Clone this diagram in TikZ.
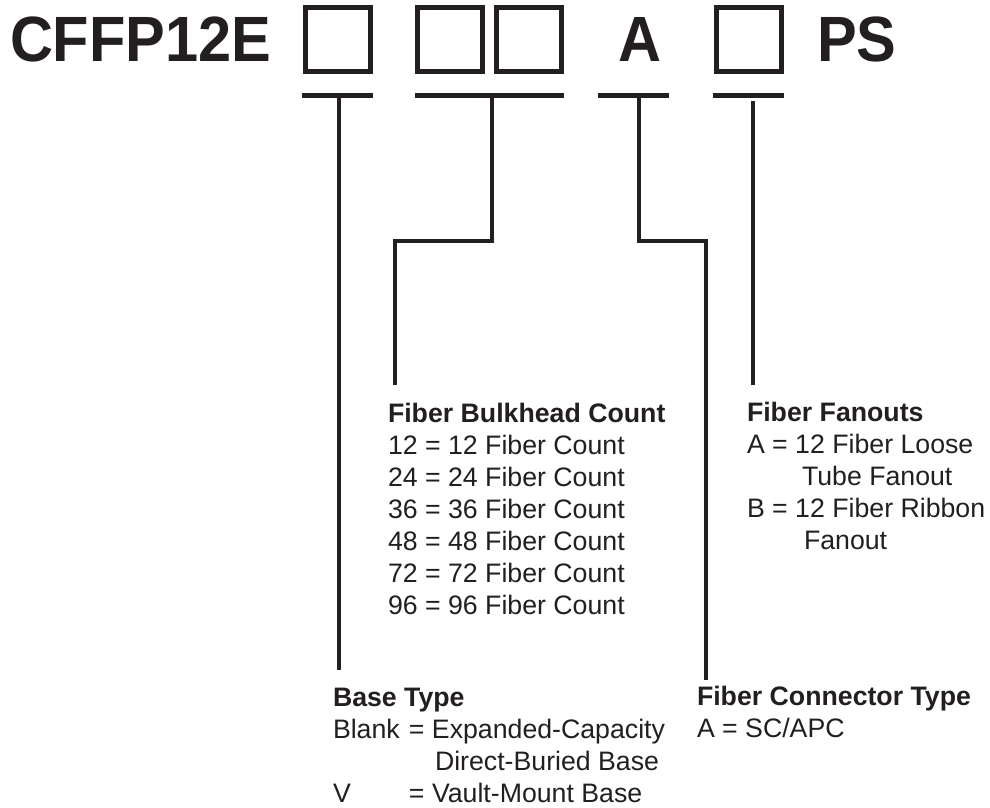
\documentclass[tikz,border=0pt]{standalone}
\usepackage{fontspec}
\usepackage{graphicx}
\setmainfont{Liberation Sans}
\definecolor{ink}{RGB}{35,31,32}
\begin{document}
\begin{tikzpicture}[x=1pt,y=-1pt,
  every node/.style={inner sep=0pt, outer sep=0pt, text=ink},
  slot/.style={draw=ink, line width=5pt, minimum width=65pt, minimum height=64pt},
  bar/.style={draw=ink, line width=5pt},
  lead/.style={draw=ink, line width=4pt, line join=miter},
  codetext/.style={anchor=base west, font=\fontsize{64}{64}\selectfont\bfseries},
  legend/.style={anchor=base west, font=\fontsize{26.7}{32}\selectfont}]
\useasboundingbox[fill=white] (0,0) rectangle (990,808);

% code line
\node[codetext] (code) at (10,62) {\scalebox{0.93}[1]{CFFP12E}};
\node[slot] (s1) at (337.5,39.5) {};
\node[slot] (s2) at (449.5,39.5) {};
\node[slot] (s3) at (529,39.5) {};
\node[codetext] (fixA) at (618,62) {\scalebox{0.93}[1]{A}};
\node[slot] (s4) at (748.5,39.5) {};
\node[codetext] (fixPS) at (817,62) {\scalebox{0.93}[1]{PS}};

% bars
\coordinate (b1l) at (302,95.5); \coordinate (b1r) at (373,95.5);
\coordinate (b2l) at (415,95.5); \coordinate (b2r) at (564,95.5);
\coordinate (b3l) at (598,95.5); \coordinate (b3r) at (669,95.5);
\coordinate (b4l) at (713,95.5); \coordinate (b4r) at (784,95.5);
\draw[bar] (b1l) -- (b1r);
\draw[bar] (b2l) -- (b2r);
\draw[bar] (b3l) -- (b3r);
\draw[bar] (b4l) -- (b4r);

% legends
\node[legend] (bulk) at (388,422) {\begin{tabular}[t]{@{}l@{}}
\bfseries Fiber Bulkhead Count\\
12 = 12 Fiber Count\\
24 = 24 Fiber Count\\
36 = 36 Fiber Count\\
48 = 48 Fiber Count\\
72 = 72 Fiber Count\\
96 = 96 Fiber Count
\end{tabular}};

\node[legend] (fan) at (747,421) {\begin{tabular}[t]{@{}l@{}}
\bfseries Fiber Fanouts\\
A = 12 Fiber Loose\\
\hspace*{55pt}Tube Fanout\\
B = 12 Fiber Ribbon\\
\hspace*{57pt}Fanout
\end{tabular}};

\node[legend] (base) at (333,706) {\begin{tabular}[t]{@{}l@{}}
\bfseries Base Type\\
\makebox[76pt][l]{Blank}= Expanded-Capacity\\
\hspace*{102pt}Direct-Buried Base\\
\makebox[76pt][l]{V}= Vault-Mount Base
\end{tabular}};

\node[legend] (conn) at (697,705) {\begin{tabular}[t]{@{}l@{}}
\bfseries Fiber Connector Type\\
A = SC/APC
\end{tabular}};

% leaders
\coordinate (t1) at (339,95);  \coordinate (e1) at (339,670);
\coordinate (t2) at (492,95);  \coordinate (k2a) at (492,241); \coordinate (k2b) at (395,241); \coordinate (e2) at (395,385);
\coordinate (t3) at (639,95);  \coordinate (k3a) at (639,241); \coordinate (k3b) at (706,241); \coordinate (e3) at (706,680);
\coordinate (t4) at (753,101); \coordinate (e4) at (753,385);
\draw[lead] (t1) -- (e1);
\draw[lead] (t2) -- (k2a) -- (k2b) -- (e2);
\draw[lead] (t3) -- (k3a) -- (k3b) -- (e3);
\draw[lead] (t4) -- (e4);
\end{tikzpicture}
\end{document}
